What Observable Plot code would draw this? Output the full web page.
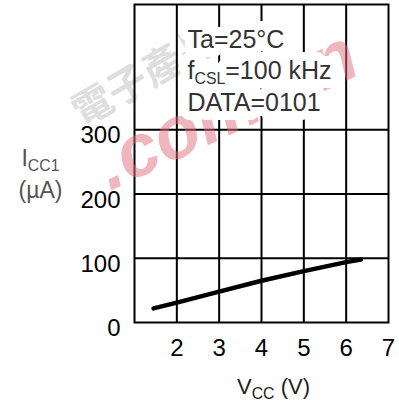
<!DOCTYPE html>
<html><head><meta charset="utf-8">
<script src="https://cdn.jsdelivr.net/npm/d3@7"></script>
<script src="https://cdn.jsdelivr.net/npm/@observablehq/plot@0.6"></script>
<style>body{margin:0;background:#fff} svg{display:block}</style>
</head><body><div id="chart"></div>
<script>
const xTicks = [2, 3, 4, 5, 6, 7];
const yTicks = [0, 100, 200, 300];
const xGrid = [2, 3, 4, 5, 6];
const yGrid = [100, 200, 300];
const vcc = [1.45, 2, 3, 4, 5, 6, 6.35];
const icc = [22, 31, 48, 65, 80, 94, 98];
const annotationLines = ["Ta=25°C", "f_{CSL}=100 kHz", "DATA=0101"];
const xLabel = "V_{CC} (V)";
const yLabelLines = ["I_{CC1}", "(µA)"];
const watermarkText = ".com.cn";
const watermarkCJK = "電子產品";

const FONT = "'Liberation Sans', Arial, Helvetica, sans-serif";
const points = vcc.map((v, i) => ({vcc: v, icc: icc[i]}));

const annotationMarks = (halo) => annotationLines.map((t, i) => Plot.text([t], {
  frameAnchor: "top-left", dx: 53, dy: 43 + i * 31.5, text: d => d, fontSize: 25,
  textAnchor: "start", lineAnchor: "bottom",
  ...(halo ? {fill: "#fff", stroke: "#fff", strokeWidth: 18, strokeLinejoin: "round"} : {fill: "#333"})
}));

const chart = Plot.plot({
  width: 399, height: 408,
  marginLeft: 134, marginRight: 11, marginTop: 4, marginBottom: 86,
  style: {fontFamily: FONT, background: "#fff"},
  x: {domain: [1, 7]},
  y: {domain: [0, 495]},
  marks: [
    Plot.text([watermarkCJK], {frameAnchor: "top-left", dx: 145 - 134, dy: 72, text: d => d,
      fontSize: 40, fontWeight: "bold", fill: "#a0a0a0", fillOpacity: 0.35, rotate: -30,
      fontFamily: "'Noto Sans CJK TC'", textAnchor: "middle", lineAnchor: "middle"}),
    Plot.ruleX(xGrid, {stroke: "#000", strokeWidth: 2}),
    Plot.ruleY(yGrid, {stroke: "#000", strokeWidth: 2}),
    Plot.frame({stroke: "#000", strokeWidth: 2}),
    Plot.line(points, {x: "vcc", y: "icc", stroke: "#000", strokeWidth: 4.5}),
    Plot.axisX(xTicks, {tickSize: 0, tickPadding: 16, fontSize: 24, fill: "#000", label: null}),
    Plot.axisY(yTicks, {tickSize: 0, tickPadding: 14, fontSize: 24, fill: "#000", dy: 6, label: null}),
    Plot.text([watermarkText], {frameAnchor: "top-left", dx: 226 - 134, dy: 106, text: d => d,
      fontSize: 74, fontWeight: "bold", fontStyle: "italic", fill: "#e0707c", fillOpacity: 0.5,
      rotate: -25, textAnchor: "middle", lineAnchor: "middle"}),
    ...annotationMarks(true),
    ...annotationMarks(false),
    Plot.text([xLabel], {frameAnchor: "bottom", dx: 12, dy: 71, text: d => d, fontSize: 22,
      fill: "#222", textAnchor: "middle", lineAnchor: "bottom"}),
    ...yLabelLines.map((t, i) => Plot.text([t], {frameAnchor: "top-left", dx: -94, dy: 161 + i * 32,
      text: d => d, fontSize: 23, fill: "#555", textAnchor: "middle", lineAnchor: "bottom"}))
  ]
});

// Subscript handling: "_{...}" becomes a lowered, smaller tspan
d3.select(chart).selectAll("text").each(function() {
  const el = this;
  if (el.querySelector("tspan")) return;
  const s = el.textContent;
  if (!s.includes("_{")) return;
  const fs = parseFloat(el.getAttribute("font-size")) || 24;
  el.textContent = "";
  const re = /_\{([^}]*)\}/g;
  let last = 0, m, lowered = false;
  const add = (txt, sub) => {
    if (!txt) return;
    const ts = document.createElementNS("http://www.w3.org/2000/svg", "tspan");
    ts.textContent = txt;
    if (sub) { ts.setAttribute("font-size", fs * 0.66); ts.setAttribute("dy", fs * 0.22); lowered = true; }
    else if (lowered) { ts.setAttribute("dy", -fs * 0.22); lowered = false; }
    el.appendChild(ts);
  };
  while ((m = re.exec(s))) { add(s.slice(last, m.index), false); add(m[1], true); last = re.lastIndex; }
  add(s.slice(last), false);
});

document.getElementById("chart").append(chart);
</script></body></html>
